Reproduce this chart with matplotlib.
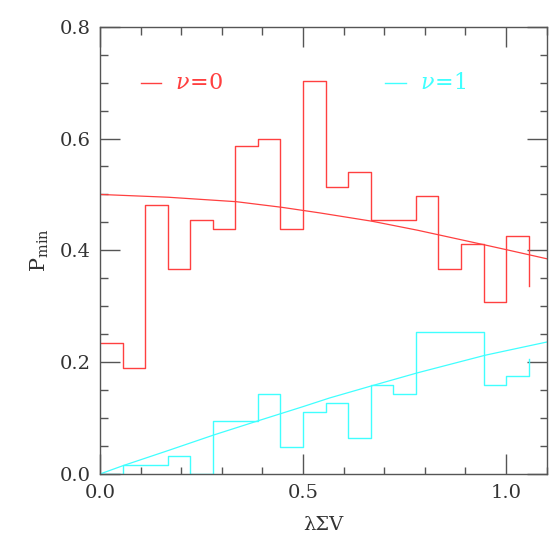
import numpy as np
import matplotlib.pyplot as plt
from matplotlib.ticker import MultipleLocator

# bordes de los bins (histograma)
bin_edges = [0.0, 0.0556, 0.1111, 0.1667, 0.2222, 0.2778, 0.3333, 0.3889,
             0.4444, 0.5, 0.5556, 0.6111, 0.6667, 0.7222, 0.7778, 0.8333,
             0.8889, 0.9444, 1.0, 1.0556]

# nu = 0 (ultimo valor: solo el trazo vertical final)
hist_nu0 = [0.234, 0.190, 0.482, 0.366, 0.454, 0.439, 0.586, 0.600, 0.439,
            0.702, 0.513, 0.541, 0.454, 0.454, 0.498, 0.366, 0.411, 0.308,
            0.425, 0.337]
# nu = 1
hist_nu1 = [0.0, 0.016, 0.016, 0.032, 0.0, 0.095, 0.095, 0.143, 0.048,
            0.111, 0.127, 0.064, 0.159, 0.143, 0.254, 0.254, 0.254, 0.159,
            0.175, 0.206]

# curvas teoricas
curva_x0 = [0.0, 0.168, 0.336, 0.4475, 0.541, 0.6705, 0.782, 0.949, 1.005, 1.1]
curva_y0 = [0.500, 0.495, 0.487, 0.477, 0.467, 0.452, 0.436, 0.4095, 0.4005, 0.385]
curva_x1 = [0.0, 0.057, 0.168, 0.281, 0.393, 0.5, 0.5655, 0.6705, 0.782, 0.949, 1.1]
curva_y1 = [0.0, 0.015, 0.042, 0.070, 0.096, 0.1205, 0.136, 0.158, 0.181, 0.2125, 0.236]

rojo = '#ff4040'
cian = '#40ffff'
gris = '#555555'

plt.rcParams['font.family'] = ['DejaVu Serif']
plt.rcParams['mathtext.fontset'] = 'dejavuserif'

fig = plt.figure(figsize=(5.54, 5.54), dpi=100)
ax = fig.add_axes([0.1805, 0.1444, 0.8063, 0.8074])

ax.step(bin_edges, hist_nu0, where='post', color=rojo, lw=1.0)
ax.step(bin_edges, hist_nu1, where='post', color=cian, lw=1.0)
ax.plot(curva_x0, curva_y0, color=rojo, lw=0.9)
ax.plot(curva_x1, curva_y1, color=cian, lw=0.9)

# leyenda hecha a mano
ax.plot([0.101, 0.151], [0.699, 0.699], color=rojo, lw=1.0)
ax.text(0.184, 0.699, r'$\nu\!=\!0$', color=rojo, fontsize=16, va='center')
ax.plot([0.701, 0.753], [0.699, 0.699], color=cian, lw=1.0)
ax.text(0.788, 0.699, r'$\nu\!=\!1$', color=cian, fontsize=16, va='center')

ax.set_xlim(0, 1.1)
ax.set_ylim(0, 0.8)
ax.xaxis.set_major_locator(MultipleLocator(0.5))
ax.xaxis.set_minor_locator(MultipleLocator(0.1))
ax.yaxis.set_major_locator(MultipleLocator(0.2))
ax.yaxis.set_minor_locator(MultipleLocator(0.05))
ax.xaxis.set_major_formatter(plt.FormatStrFormatter('%.1f'))
ax.yaxis.set_major_formatter(plt.FormatStrFormatter('%.1f'))

ax.tick_params(which='both', direction='in', top=True, right=True,
               color=gris, labelcolor='#333333', labelsize=14, width=1.0)
ax.tick_params(which='major', length=14.4, pad=7)
ax.tick_params(which='minor', length=5.4)
for s in ax.spines.values():
    s.set_color(gris)
    s.set_linewidth(1.0)

ax.set_xlabel('λΣV', fontsize=14, color='#333333', labelpad=10)
ax.set_ylabel(r'$\mathrm{P_{min}}$', fontsize=15, color='#333333', labelpad=6)

fig.savefig('out.png', dpi=100)
